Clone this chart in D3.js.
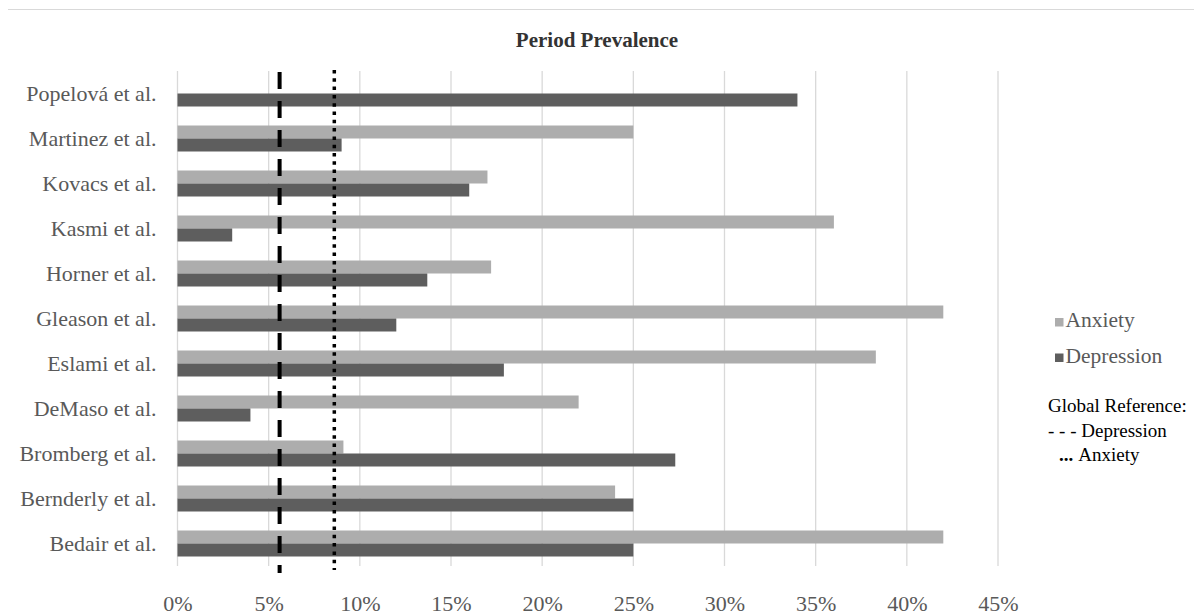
<!DOCTYPE html>
<html>
<head>
<meta charset="utf-8">
<script src="https://cdn.jsdelivr.net/npm/d3@7"></script>
<style>
  html, body { margin: 0; padding: 0; background: #ffffff; }
  svg { display: block; font-family: "Liberation Serif", "Times New Roman", serif; }
</style>
</head>
<body>
<svg id="chart" width="1194" height="615"></svg>
<script>
// Studies, listed top to bottom
const studies = [
  "Popelová et al.", "Martinez et al.", "Kovacs et al.", "Kasmi et al.",
  "Horner et al.", "Gleason et al.", "Eslami et al.", "DeMaso et al.",
  "Bromberg et al.", "Bernderly et al.", "Bedair et al."
];
// Period prevalence (%) for each study
const anxiety    = [null, 25, 17, 36, 17.2, 42, 38.3, 22, 9.1, 24, 42];
const depression = [34, 9, 16, 3, 13.7, 12, 17.9, 4, 27.3, 25, 25];
// Global reference prevalence (%)
const globalDepression = 5.6;
const globalAnxiety = 8.6;
// Axis ticks
const xTicks = [0, 5, 10, 15, 20, 25, 30, 35, 40, 45];
const seriesNames = ["Anxiety", "Depression"];
const seriesColors = ["#adadad", "#5e5e5e"];

const svg = d3.select("#chart");
const plotLeft = 177.5, plotRight = 998, plotTop = 71, plotBottom = 566;

// frame edge along the top
svg.append("line")
  .attr("x1", 8).attr("x2", 1194).attr("y1", 9.5).attr("y2", 9.5)
  .attr("stroke", "#d9d9d9").attr("stroke-width", 1);

const x = d3.scaleLinear().domain([0, 45]).range([plotLeft, plotRight]);
const y = d3.scaleBand().domain(studies).range([plotTop, plotBottom])
  .paddingInner(0.4222).paddingOuter(0.2111);
const ySeries = d3.scaleBand().domain(seriesNames).range([0, y.bandwidth()]);
const color = d3.scaleOrdinal().domain(seriesNames).range(seriesColors);

// title
svg.append("text")
  .attr("x", 597).attr("y", 47)
  .attr("text-anchor", "middle")
  .attr("font-size", 21).attr("font-weight", "bold")
  .attr("fill", "#333333")
  .text("Period Prevalence");

// vertical gridlines
svg.append("g").selectAll("line").data(xTicks).join("line")
  .attr("x1", d => x(d)).attr("x2", d => x(d))
  .attr("y1", plotTop).attr("y2", plotBottom)
  .attr("stroke", "#d9d9d9").attr("stroke-width", 1.3);

// x axis labels
const xAxis = d3.axisBottom(x).tickValues(xTicks).tickFormat(d => d + "%").tickSize(0).tickPadding(0);
const gx = svg.append("g").attr("transform", `translate(0,${plotBottom + 45})`).call(xAxis);
gx.select(".domain").remove();
gx.selectAll("text")
  .attr("font-family", "Liberation Serif, Times New Roman, serif")
  .attr("font-size", 22).attr("fill", "#595959").attr("dy", "0");

// y axis labels
const yAxis = d3.axisLeft(y).tickSize(0).tickPadding(0);
const gy = svg.append("g").attr("transform", `translate(156.5,0)`).call(yAxis);
gy.select(".domain").remove();
gy.selectAll("text")
  .attr("font-family", "Liberation Serif, Times New Roman, serif")
  .attr("font-size", 22).attr("fill", "#595959").attr("dy", "0.34em");

// bars
const rows = studies.map((s, i) => ({ study: s, values: [
  { series: "Anxiety", value: anxiety[i] },
  { series: "Depression", value: depression[i] }
]}));
const groups = svg.append("g").selectAll("g").data(rows).join("g")
  .attr("transform", d => `translate(0,${y(d.study)})`);
groups.selectAll("rect").data(d => d.values.filter(v => v.value != null)).join("rect")
  .attr("x", x(0))
  .attr("y", d => ySeries(d.series))
  .attr("width", d => x(d.value) - x(0))
  .attr("height", ySeries.bandwidth())
  .attr("fill", d => color(d.series));

// global reference lines
svg.append("line")
  .attr("x1", x(globalDepression)).attr("x2", x(globalDepression))
  .attr("y1", plotTop + 1).attr("y2", plotBottom + 7)
  .attr("stroke", "#000").attr("stroke-width", 4)
  .attr("stroke-dasharray", "17,12");
svg.append("line")
  .attr("x1", x(globalAnxiety)).attr("x2", x(globalAnxiety))
  .attr("y1", plotTop - 1).attr("y2", plotBottom + 4)
  .attr("stroke", "#000").attr("stroke-width", 3.5)
  .attr("stroke-dasharray", "3.5,4.8");

// legend
const legend = svg.append("g");
seriesNames.forEach((name, i) => {
  const by = 327 + i * 35.5;
  legend.append("rect")
    .attr("x", 1055).attr("y", by - 9).attr("width", 8.5).attr("height", 8.5)
    .attr("fill", color(name));
  legend.append("text")
    .attr("x", 1065.5).attr("y", by)
    .attr("font-size", 21.5).attr("fill", "#595959")
    .text(name);
});
legend.append("text")
  .attr("x", 1048).attr("y", 412)
  .attr("font-size", 19).attr("fill", "#000")
  .text("Global Reference:");
legend.append("text")
  .attr("x", 1048).attr("y", 436.5)
  .attr("font-size", 19).attr("fill", "#000")
  .text("- - - Depression");
const anxRef = legend.append("text")
  .attr("x", 1059).attr("y", 460.5)
  .attr("font-size", 19).attr("fill", "#000");
anxRef.append("tspan").attr("font-weight", "bold").text("...");
anxRef.append("tspan").attr("dx", 5).text("Anxiety");
</script>
</body>
</html>
